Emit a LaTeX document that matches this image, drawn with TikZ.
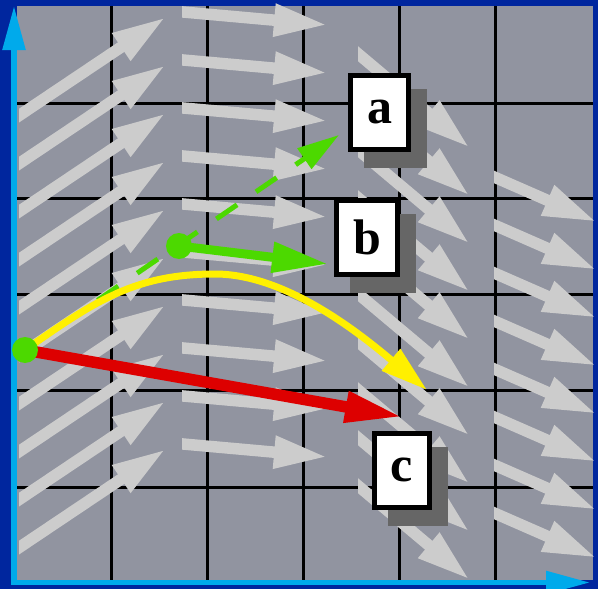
\documentclass[tikz,border=0pt]{standalone}
\usepackage{fontspec}
\setmainfont{Liberation Serif}
\usetikzlibrary{arrows.meta,shadows}
\definecolor{frameblue}{RGB}{0,38,158}
\definecolor{plotgrey}{RGB}{145,148,160}
\definecolor{fieldgrey}{RGB}{204,204,204}
\definecolor{axisblue}{RGB}{0,170,235}
\definecolor{pathgreen}{RGB}{76,217,0}
\definecolor{pathred}{RGB}{221,0,0}
\definecolor{pathyellow}{RGB}{255,240,0}
\definecolor{shadowgrey}{RGB}{102,102,102}
\begin{document}
\begin{tikzpicture}[x=1pt,y=-1pt,
  fieldarrow/.style={draw=fieldgrey, line width=11.5pt, -{Triangle[length=54pt,width=30pt]}},
  gridline/.style={black, line width=3pt},
  axisline/.style={draw=axisblue, line width=5.5pt, line cap=rect, -{Triangle[length=44pt,width=22pt]}},
  tagbox/.style={draw=black, line width=5pt, fill=white, inner xsep=16.5pt, inner ysep=0pt,
    minimum height=74pt, font=\bfseries\fontsize{50}{50}\selectfont,
    drop shadow={shadow xshift=16pt, shadow yshift=-16pt, opacity=1, fill=shadowgrey, draw=shadowgrey, line width=5pt}},
  dot/.style={circle, fill=pathgreen, minimum size=26pt, inner sep=0pt}]
\useasboundingbox (0,0) rectangle (598,589);
\fill[frameblue] (0,0) rectangle (598,589);
\fill[plotgrey] (17,6) rectangle (593,580);
% grid
\foreach \x in {111,207,303,399,495}
  \draw[gridline] (\x,6) -- (\x,580);
\foreach \y in {103,198,294,390,487}
  \draw[gridline] (17,\y) -- (593,\y);
% vector field, one column at a time
\begin{scope}
  \clip (19,0) rectangle (598,589);
  \foreach \k in {0,...,9}
    \draw[fieldarrow] (8,123+48*\k) -- (166,17+48*\k);
\end{scope}
\begin{scope}
  \clip (182,0) rectangle (598,589);
  \foreach \k in {0,...,9}
    \draw[fieldarrow] (172,11+48*\k) -- (328,25+48*\k);
\end{scope}
\begin{scope}
  \clip (358,0) rectangle (598,589);
  \foreach \k in {0,...,9}
    \draw[fieldarrow] (350,47+48*\k) -- (470,148+48*\k);
\end{scope}
\begin{scope}
  \clip (494,0) rectangle (598,589);
  \foreach \k in {0,...,7}
    \draw[fieldarrow] (485,173+48*\k) -- (597,222+48*\k);
\end{scope}
% axes
\coordinate (origin) at (14,582.5);
\coordinate (ytip) at (14,6);
\coordinate (xtip) at (590,582.5);
\draw[axisline] (origin) -- (ytip);
\draw[axisline] (origin) -- (xtip);
% labels
\node[tagbox] (a) at (379.5,112.5) {a};
\node[tagbox] (b) at (367,237.5) {b};
\node[tagbox] (c) at (402,470) {c};
% paths
\coordinate (p0) at (25,350);
\coordinate (p1) at (179,246);
\coordinate (ta) at (339,135);
\coordinate (tb) at (328,264);
\coordinate (tc) at (403,417);
\coordinate (ytop) at (215,274);
\coordinate (ty) at (427,390);
\draw[pathgreen, line width=5pt, dash pattern=on 25pt off 23pt, dash phase=8pt,
  -{Triangle[length=42pt,width=24pt]}] (p0) -- (ta);
\draw[pathyellow, line width=7pt, -{Triangle[length=47pt,width=27pt]}]
  (p0) .. controls (95,301) and (135,274) .. (ytop)
  .. controls (285,274) and (358,332) .. (ty);
\draw[pathred, line width=11.5pt, -{Triangle[length=58pt,width=29pt]}] (p0) -- (tc);
\draw[pathgreen, line width=9pt, -{Triangle[length=56pt,width=29pt]}] (p1) -- (tb);
\node[dot] (start) at (p0) {};
\node[dot] (mid) at (p1) {};
\end{tikzpicture}
\end{document}
